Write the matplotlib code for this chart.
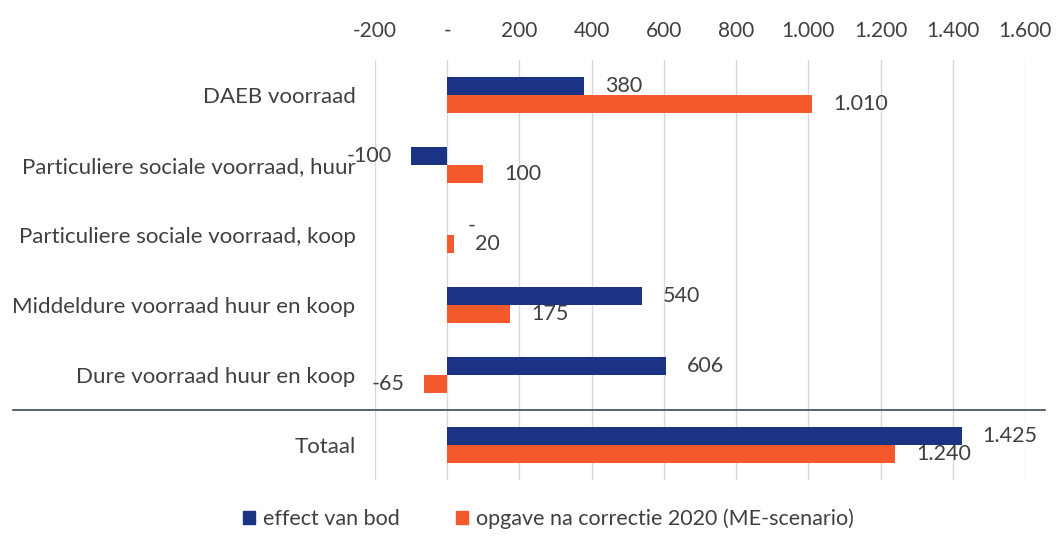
import matplotlib.pyplot as plt
from matplotlib.patches import Patch

plt.rcParams['font.family'] = ['Lato', 'DejaVu Sans']

categories = [
    "DAEB voorraad",
    "Particuliere sociale voorraad, huur",
    "Particuliere sociale voorraad, koop",
    "Middeldure voorraad huur en koop",
    "Dure voorraad huur en koop",
    "Totaal",
]
effect_van_bod = [380, -100, 0, 540, 606, 1425]
opgave_2020 = [1010, 100, 20, 175, -65, 1240]
xticks = [-200, 0, 200, 400, 600, 800, 1000, 1200, 1400, 1600]

BLUE = "#1a3384"
ORANGE = "#f4592c"
TEXT = "#404040"


def fmt(v):
    # Dutch thousands separator, zero shown as a dash (Excel style)
    if v == 0:
        return "-"
    return f"{v:,.0f}".replace(",", ".")


fig = plt.figure(figsize=(10.59, 5.42), dpi=100)
ax = fig.add_axes([0.354, 0.114, 0.614, 0.775])

bar_h = 0.26
ypos = list(range(len(categories)))
y_blue = [y - bar_h / 2 for y in ypos]
y_orange = [y + bar_h / 2 for y in ypos]

ax.barh(y_blue, effect_van_bod, height=bar_h, color=BLUE, zorder=3)
ax.barh(y_orange, opgave_2020, height=bar_h, color=ORANGE, zorder=3)

# data labels
for ys, vals in ((y_blue, effect_van_bod), (y_orange, opgave_2020)):
    for y, v in zip(ys, vals):
        if v < 0:
            ax.annotate(fmt(v), (v, y), xytext=(-14, 0), textcoords="offset points",
                        ha="right", va="center", fontsize=15.5, color=TEXT)
        else:
            ax.annotate(fmt(v), (v, y), xytext=(15, 0), textcoords="offset points",
                        ha="left", va="center", fontsize=15.5, color=TEXT)

ax.set_xlim(-200, 1600)
ax.set_ylim(len(categories) - 0.5, -0.5)
ax.set_xticks(xticks)
ax.set_xticklabels([fmt(v) for v in xticks])
ax.xaxis.tick_top()
ax.set_yticks(ypos)
ax.set_yticklabels(categories)
ax.tick_params(axis="x", length=0, pad=14, labelsize=15, labelcolor=TEXT)
ax.tick_params(axis="y", length=0, pad=14, labelsize=16, labelcolor=TEXT)
ax.grid(axis="x", color="#d9d9d9", linewidth=1, zorder=0)
for s in ax.spines.values():
    s.set_visible(False)

# separator above Totaal
ax.axhline(4.5, xmin=-0.557, xmax=1.03, color="#3a4a5a", linewidth=1.2,
           clip_on=False, zorder=4)

handles = [Patch(color=BLUE), Patch(color=ORANGE)]
fig.legend(handles, ["effect van bod", "opgave na correctie 2020 (ME-scenario)"],
           loc="lower center", bbox_to_anchor=(0.518, -0.012), ncol=2, frameon=False,
           fontsize=15.5, handlelength=0.55, handleheight=0.55, handletextpad=0.4,
           columnspacing=2.6, labelcolor=TEXT)

fig.savefig("out.png", dpi=100)
